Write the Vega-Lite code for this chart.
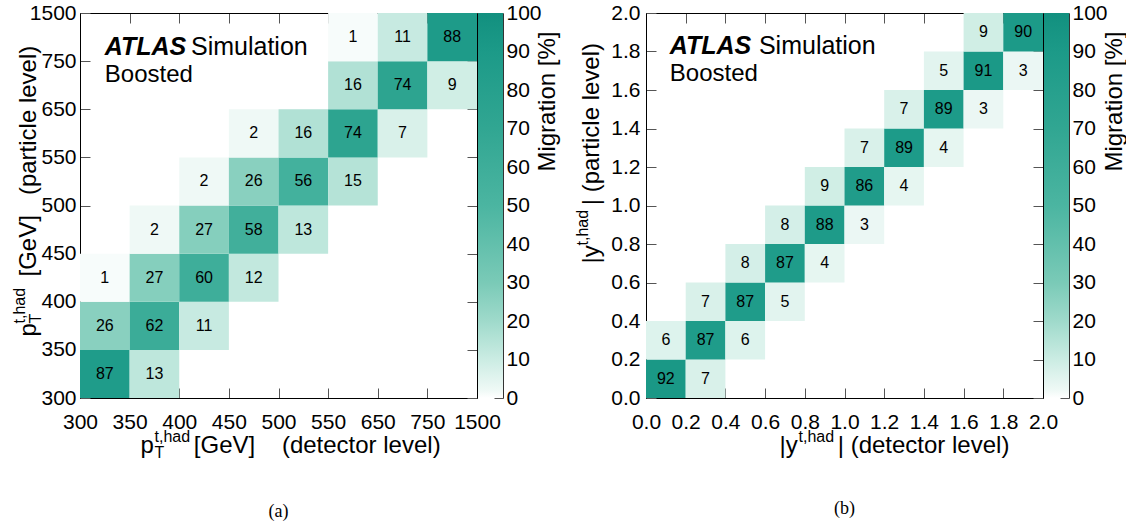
{
  "$schema": "https://vega.github.io/schema/vega-lite/v6.json",
  "background": "white",
  "padding": {"left": 11, "top": 2, "right": 0, "bottom": 0},
  "spacing": 15,
  "config": {
    "font": "Liberation Sans",
    "view": {"stroke": null},
    "axis": {
      "grid": false,
      "domain": true,
      "domainColor": "black",
      "domainWidth": 1,
      "ticks": true,
      "tickColor": "#555555",
      "tickWidth": 1,
      "labelFont": "Liberation Sans",
      "labelFontSize": 21,
      "labelColor": "black",
      "labelFlush": false,
      "labelOverlap": false,
      "labelBound": false,
      "titleFont": "Liberation Sans",
      "titleFontSize": 24,
      "titleFontWeight": "normal",
      "titleColor": "black",
      "titleBaseline": "alphabetic",
      "zindex": 1
    },
    "title": {"font": "Liberation Serif", "fontSize": 18, "fontWeight": "normal", "color": "black"}
  },
  "datasets": {
    "pt": [
      {"det_lo": 300, "det_hi": 350, "det_mid": 325, "part_lo": 300, "part_hi": 350, "part_mid": 325, "pct": 87},
      {"det_lo": 350, "det_hi": 400, "det_mid": 375, "part_lo": 300, "part_hi": 350, "part_mid": 325, "pct": 13},
      {"det_lo": 300, "det_hi": 350, "det_mid": 325, "part_lo": 350, "part_hi": 400, "part_mid": 375, "pct": 26},
      {"det_lo": 350, "det_hi": 400, "det_mid": 375, "part_lo": 350, "part_hi": 400, "part_mid": 375, "pct": 62},
      {"det_lo": 400, "det_hi": 450, "det_mid": 425, "part_lo": 350, "part_hi": 400, "part_mid": 375, "pct": 11},
      {"det_lo": 300, "det_hi": 350, "det_mid": 325, "part_lo": 400, "part_hi": 450, "part_mid": 425, "pct": 1},
      {"det_lo": 350, "det_hi": 400, "det_mid": 375, "part_lo": 400, "part_hi": 450, "part_mid": 425, "pct": 27},
      {"det_lo": 400, "det_hi": 450, "det_mid": 425, "part_lo": 400, "part_hi": 450, "part_mid": 425, "pct": 60},
      {"det_lo": 450, "det_hi": 500, "det_mid": 475, "part_lo": 400, "part_hi": 450, "part_mid": 425, "pct": 12},
      {"det_lo": 350, "det_hi": 400, "det_mid": 375, "part_lo": 450, "part_hi": 500, "part_mid": 475, "pct": 2},
      {"det_lo": 400, "det_hi": 450, "det_mid": 425, "part_lo": 450, "part_hi": 500, "part_mid": 475, "pct": 27},
      {"det_lo": 450, "det_hi": 500, "det_mid": 475, "part_lo": 450, "part_hi": 500, "part_mid": 475, "pct": 58},
      {"det_lo": 500, "det_hi": 550, "det_mid": 525, "part_lo": 450, "part_hi": 500, "part_mid": 475, "pct": 13},
      {"det_lo": 400, "det_hi": 450, "det_mid": 425, "part_lo": 500, "part_hi": 550, "part_mid": 525, "pct": 2},
      {"det_lo": 450, "det_hi": 500, "det_mid": 475, "part_lo": 500, "part_hi": 550, "part_mid": 525, "pct": 26},
      {"det_lo": 500, "det_hi": 550, "det_mid": 525, "part_lo": 500, "part_hi": 550, "part_mid": 525, "pct": 56},
      {"det_lo": 550, "det_hi": 650, "det_mid": 600, "part_lo": 500, "part_hi": 550, "part_mid": 525, "pct": 15},
      {"det_lo": 450, "det_hi": 500, "det_mid": 475, "part_lo": 550, "part_hi": 650, "part_mid": 600, "pct": 2},
      {"det_lo": 500, "det_hi": 550, "det_mid": 525, "part_lo": 550, "part_hi": 650, "part_mid": 600, "pct": 16},
      {"det_lo": 550, "det_hi": 650, "det_mid": 600, "part_lo": 550, "part_hi": 650, "part_mid": 600, "pct": 74},
      {"det_lo": 650, "det_hi": 750, "det_mid": 700, "part_lo": 550, "part_hi": 650, "part_mid": 600, "pct": 7},
      {"det_lo": 550, "det_hi": 650, "det_mid": 600, "part_lo": 650, "part_hi": 750, "part_mid": 700, "pct": 16},
      {"det_lo": 650, "det_hi": 750, "det_mid": 700, "part_lo": 650, "part_hi": 750, "part_mid": 700, "pct": 74},
      {"det_lo": 750, "det_hi": 1500, "det_mid": 1125, "part_lo": 650, "part_hi": 750, "part_mid": 700, "pct": 9},
      {"det_lo": 550, "det_hi": 650, "det_mid": 600, "part_lo": 750, "part_hi": 1500, "part_mid": 1125, "pct": 1},
      {"det_lo": 650, "det_hi": 750, "det_mid": 700, "part_lo": 750, "part_hi": 1500, "part_mid": 1125, "pct": 11},
      {"det_lo": 750, "det_hi": 1500, "det_mid": 1125, "part_lo": 750, "part_hi": 1500, "part_mid": 1125, "pct": 88}
    ],
    "rap": [
      {"det_lo": 0.0, "det_hi": 0.2, "det_mid": 0.1, "part_lo": 0.0, "part_hi": 0.2, "part_mid": 0.1, "pct": 92},
      {"det_lo": 0.2, "det_hi": 0.4, "det_mid": 0.3, "part_lo": 0.0, "part_hi": 0.2, "part_mid": 0.1, "pct": 7},
      {"det_lo": 0.0, "det_hi": 0.2, "det_mid": 0.1, "part_lo": 0.2, "part_hi": 0.4, "part_mid": 0.3, "pct": 6},
      {"det_lo": 0.2, "det_hi": 0.4, "det_mid": 0.3, "part_lo": 0.2, "part_hi": 0.4, "part_mid": 0.3, "pct": 87},
      {"det_lo": 0.4, "det_hi": 0.6, "det_mid": 0.5, "part_lo": 0.2, "part_hi": 0.4, "part_mid": 0.3, "pct": 6},
      {"det_lo": 0.2, "det_hi": 0.4, "det_mid": 0.3, "part_lo": 0.4, "part_hi": 0.6, "part_mid": 0.5, "pct": 7},
      {"det_lo": 0.4, "det_hi": 0.6, "det_mid": 0.5, "part_lo": 0.4, "part_hi": 0.6, "part_mid": 0.5, "pct": 87},
      {"det_lo": 0.6, "det_hi": 0.8, "det_mid": 0.7, "part_lo": 0.4, "part_hi": 0.6, "part_mid": 0.5, "pct": 5},
      {"det_lo": 0.4, "det_hi": 0.6, "det_mid": 0.5, "part_lo": 0.6, "part_hi": 0.8, "part_mid": 0.7, "pct": 8},
      {"det_lo": 0.6, "det_hi": 0.8, "det_mid": 0.7, "part_lo": 0.6, "part_hi": 0.8, "part_mid": 0.7, "pct": 87},
      {"det_lo": 0.8, "det_hi": 1.0, "det_mid": 0.9, "part_lo": 0.6, "part_hi": 0.8, "part_mid": 0.7, "pct": 4},
      {"det_lo": 0.6, "det_hi": 0.8, "det_mid": 0.7, "part_lo": 0.8, "part_hi": 1.0, "part_mid": 0.9, "pct": 8},
      {"det_lo": 0.8, "det_hi": 1.0, "det_mid": 0.9, "part_lo": 0.8, "part_hi": 1.0, "part_mid": 0.9, "pct": 88},
      {"det_lo": 1.0, "det_hi": 1.2, "det_mid": 1.1, "part_lo": 0.8, "part_hi": 1.0, "part_mid": 0.9, "pct": 3},
      {"det_lo": 0.8, "det_hi": 1.0, "det_mid": 0.9, "part_lo": 1.0, "part_hi": 1.2, "part_mid": 1.1, "pct": 9},
      {"det_lo": 1.0, "det_hi": 1.2, "det_mid": 1.1, "part_lo": 1.0, "part_hi": 1.2, "part_mid": 1.1, "pct": 86},
      {"det_lo": 1.2, "det_hi": 1.4, "det_mid": 1.3, "part_lo": 1.0, "part_hi": 1.2, "part_mid": 1.1, "pct": 4},
      {"det_lo": 1.0, "det_hi": 1.2, "det_mid": 1.1, "part_lo": 1.2, "part_hi": 1.4, "part_mid": 1.3, "pct": 7},
      {"det_lo": 1.2, "det_hi": 1.4, "det_mid": 1.3, "part_lo": 1.2, "part_hi": 1.4, "part_mid": 1.3, "pct": 89},
      {"det_lo": 1.4, "det_hi": 1.6, "det_mid": 1.5, "part_lo": 1.2, "part_hi": 1.4, "part_mid": 1.3, "pct": 4},
      {"det_lo": 1.2, "det_hi": 1.4, "det_mid": 1.3, "part_lo": 1.4, "part_hi": 1.6, "part_mid": 1.5, "pct": 7},
      {"det_lo": 1.4, "det_hi": 1.6, "det_mid": 1.5, "part_lo": 1.4, "part_hi": 1.6, "part_mid": 1.5, "pct": 89},
      {"det_lo": 1.6, "det_hi": 1.8, "det_mid": 1.7, "part_lo": 1.4, "part_hi": 1.6, "part_mid": 1.5, "pct": 3},
      {"det_lo": 1.4, "det_hi": 1.6, "det_mid": 1.5, "part_lo": 1.6, "part_hi": 1.8, "part_mid": 1.7, "pct": 5},
      {"det_lo": 1.6, "det_hi": 1.8, "det_mid": 1.7, "part_lo": 1.6, "part_hi": 1.8, "part_mid": 1.7, "pct": 91},
      {"det_lo": 1.8, "det_hi": 2.0, "det_mid": 1.9, "part_lo": 1.6, "part_hi": 1.8, "part_mid": 1.7, "pct": 3},
      {"det_lo": 1.6, "det_hi": 1.8, "det_mid": 1.7, "part_lo": 1.8, "part_hi": 2.0, "part_mid": 1.9, "pct": 9},
      {"det_lo": 1.8, "det_hi": 2.0, "det_mid": 1.9, "part_lo": 1.8, "part_hi": 2.0, "part_mid": 1.9, "pct": 90}
    ],
    "bar": [{"lo": 0, "hi": 100}]
  },
  "hconcat": [
    {
      "spacing": 1,
      "bounds": "flush",
      "hconcat": [
        {
          "width": 397,
          "height": 385,
          "data": {"name": "pt"},
          "title": {"text": "(a)", "orient": "bottom", "anchor": "middle", "frame": "group", "offset": 43},
          "resolve": {"axis": {"x": "independent", "y": "independent"}},
          "layer": [
            {
              "mark": {"type": "rect", "strokeWidth": 0},
              "encoding": {
                "x": {
                  "field": "det_lo", "type": "quantitative",
                  "scale": {"domain": [300, 350, 400, 450, 500, 550, 650, 750, 1500], "range": [0, 49.625, 99.25, 148.875, 198.5, 248.125, 297.75, 347.375, 397], "nice": false, "zero": false},
                  "axis": {"orient": "bottom", "values": [300, 350, 400, 450, 500, 550, 650, 750, 1500], "format": "d", "tickSize": -10, "labelPadding": 23,
                    "title": "p\u00a0\u00a0\u00a0\u00a0\u00a0\u00a0[GeV]\u00a0\u00a0\u00a0\u00a0(detector level)", "titleX": 60, "titleY": 54, "titleAlign": "left", "titleAngle": 0}
                },
                "x2": {"field": "det_hi"},
                "y": {
                  "field": "part_lo", "type": "quantitative",
                  "scale": {"domain": [300, 350, 400, 450, 500, 550, 650, 750, 1500], "range": [385, 336.875, 288.75, 240.625, 192.5, 144.375, 96.25, 48.125, 0], "nice": false, "zero": false},
                  "axis": {"orient": "left", "values": [300, 350, 400, 450, 500, 550, 650, 750, 1500], "format": "d", "tickSize": -10, "labelPadding": 14,
                    "title": "p\u00a0\u00a0\u00a0\u00a0\u00a0\u00a0\u00a0[GeV]\u00a0\u00a0\u00a0(particle level)", "titleX": -45, "titleY": 323, "titleAlign": "left", "titleAngle": 270}
                },
                "y2": {"field": "part_hi"},
                "color": {
                  "field": "pct", "type": "quantitative",
                  "scale": {"domain": [0, 2, 10, 20, 30, 50, 70, 90, 100], "range": ["#ffffff", "#eff9f6", "#cbece3", "#9fdacb", "#7acab7", "#4bb5a1", "#31a692", "#1c9a88", "#12907f"], "interpolate": "rgb"},
                  "legend": null
                }
              }
            },
            {
              "mark": {"type": "text", "fontSize": 16, "color": "black", "align": "center", "baseline": "middle"},
              "encoding": {
                "x": {
                  "field": "det_mid", "type": "quantitative",
                  "axis": {"orient": "top", "values": [300, 350, 400, 450, 500, 550, 650, 750, 1500], "labels": false, "tickSize": -10,
                    "title": ["t,had", "T"], "titleFontSize": 16, "titleLineHeight": 16, "titleX": 74, "titleY": 428, "titleAlign": "left", "titleAngle": 0}
                },
                "y": {
                  "field": "part_mid", "type": "quantitative",
                  "axis": {"orient": "right", "values": [300, 350, 400, 450, 500, 550, 650, 750, 1500], "labels": false, "tickSize": -10,
                    "title": ["t,had", "T"], "titleFontSize": 16, "titleLineHeight": 16, "titleX": -453, "titleY": 310, "titleAlign": "left", "titleAngle": 270}
                },
                "text": {"field": "pct", "type": "quantitative", "format": "d"}
              }
            },
            {
              "data": {"values": [{}]},
              "mark": {"type": "text", "text": "ATLAS", "fontSize": 25, "fontStyle": "italic", "fontWeight": "bold", "align": "left", "baseline": "alphabetic", "color": "black"},
              "encoding": {
                "x": {"datum": 325, "type": "quantitative", "axis": null},
                "y": {"datum": 845, "type": "quantitative", "axis": null}
              }
            },
            {
              "data": {"values": [{}]},
              "mark": {"type": "text", "text": "Simulation", "fontSize": 25, "align": "left", "baseline": "alphabetic", "color": "black"},
              "encoding": {
                "x": {"datum": 411.8, "type": "quantitative", "axis": null},
                "y": {"datum": 845, "type": "quantitative", "axis": null}
              }
            },
            {
              "data": {"values": [{}]},
              "mark": {"type": "text", "text": "Boosted", "fontSize": 24, "align": "left", "baseline": "alphabetic", "color": "black"},
              "encoding": {
                "x": {"datum": 325, "type": "quantitative", "axis": null},
                "y": {"datum": 706.6, "type": "quantitative", "axis": null}
              }
            }
          ]
        },
        {
          "width": 25,
          "height": 385,
          "data": {"name": "bar"},
          "mark": {
            "type": "rect",
            "fill": {"gradient": "linear", "x1": 0, "y1": 1, "x2": 0, "y2": 0,
              "stops": [
                {"offset": 0, "color": "#ffffff"}, {"offset": 0.02, "color": "#eff9f6"}, {"offset": 0.1, "color": "#cbece3"},
                {"offset": 0.2, "color": "#9fdacb"}, {"offset": 0.3, "color": "#7acab7"}, {"offset": 0.5, "color": "#4bb5a1"},
                {"offset": 0.7, "color": "#31a692"}, {"offset": 0.9, "color": "#1c9a88"}, {"offset": 1, "color": "#12907f"}
              ]}
          },
          "encoding": {
            "y": {
              "field": "lo", "type": "quantitative",
              "scale": {"domain": [0, 100], "nice": false, "zero": false},
              "axis": {"orient": "right", "values": [0, 10, 20, 30, 40, 50, 60, 70, 80, 90, 100], "format": "d", "tickSize": -9, "labelPadding": 12, "domainColor": "#333333",
                "title": "Migration [%]", "titleX": 51, "titleY": 18, "titleAlign": "right", "titleAngle": 270}
            },
            "y2": {"field": "hi"}
          }
        }
      ]
    },
    {
      "spacing": 1,
      "bounds": "flush",
      "hconcat": [
        {
          "width": 397,
          "height": 385,
          "data": {"name": "rap"},
          "title": {"text": "(b)", "orient": "bottom", "anchor": "middle", "frame": "group", "offset": 43},
          "resolve": {"axis": {"x": "independent", "y": "independent"}},
          "layer": [
            {
              "mark": {"type": "rect", "strokeWidth": 0},
              "encoding": {
                "x": {
                  "field": "det_lo", "type": "quantitative",
                  "scale": {"domain": [0, 2], "nice": false, "zero": false},
                  "axis": {"orient": "bottom", "values": [0, 0.2, 0.4, 0.6, 0.8, 1, 1.2, 1.4, 1.6, 1.8, 2], "format": ".1f", "tickSize": -10, "labelPadding": 23,
                    "title": "|y\u00a0\u00a0\u00a0\u00a0\u00a0\u00a0|\u00a0(detector level)", "titleX": 133, "titleY": 54, "titleAlign": "left", "titleAngle": 0}
                },
                "x2": {"field": "det_hi"},
                "y": {
                  "field": "part_lo", "type": "quantitative",
                  "scale": {"domain": [0, 2], "nice": false, "zero": false},
                  "axis": {"orient": "left", "values": [0, 0.2, 0.4, 0.6, 0.8, 1, 1.2, 1.4, 1.6, 1.8, 2], "format": ".1f", "tickSize": -10, "labelPadding": 16,
                    "title": "|y\u00a0\u00a0\u00a0\u00a0\u00a0\u00a0|\u00a0(particle level)", "titleX": -48, "titleY": 250, "titleAlign": "left", "titleAngle": 270}
                },
                "y2": {"field": "part_hi"},
                "color": {
                  "field": "pct", "type": "quantitative",
                  "scale": {"domain": [0, 2, 10, 20, 30, 50, 70, 90, 100], "range": ["#ffffff", "#eff9f6", "#cbece3", "#9fdacb", "#7acab7", "#4bb5a1", "#31a692", "#1c9a88", "#12907f"], "interpolate": "rgb"},
                  "legend": null
                }
              }
            },
            {
              "mark": {"type": "text", "fontSize": 16, "color": "black", "align": "center", "baseline": "middle"},
              "encoding": {
                "x": {
                  "field": "det_mid", "type": "quantitative",
                  "axis": {"orient": "top", "values": [0, 0.2, 0.4, 0.6, 0.8, 1, 1.2, 1.4, 1.6, 1.8, 2], "labels": false, "tickSize": -10,
                    "title": "t,had", "titleFontSize": 16, "titleX": 152, "titleY": 428, "titleAlign": "left", "titleAngle": 0}
                },
                "y": {
                  "field": "part_mid", "type": "quantitative",
                  "axis": {"orient": "right", "values": [0, 0.2, 0.4, 0.6, 0.8, 1, 1.2, 1.4, 1.6, 1.8, 2], "labels": false, "tickSize": -10,
                    "title": "t,had", "titleFontSize": 16, "titleX": -456, "titleY": 232, "titleAlign": "left", "titleAngle": 270}
                },
                "text": {"field": "pct", "type": "quantitative", "format": "d"}
              }
            },
            {
              "data": {"values": [{}]},
              "mark": {"type": "text", "text": "ATLAS", "fontSize": 25, "fontStyle": "italic", "fontWeight": "bold", "align": "left", "baseline": "alphabetic", "color": "black"},
              "encoding": {
                "x": {"datum": 0.12, "type": "quantitative", "axis": null},
                "y": {"datum": 1.787, "type": "quantitative", "axis": null}
              }
            },
            {
              "data": {"values": [{}]},
              "mark": {"type": "text", "text": "Simulation", "fontSize": 25, "align": "left", "baseline": "alphabetic", "color": "black"},
              "encoding": {
                "x": {"datum": 0.569, "type": "quantitative", "axis": null},
                "y": {"datum": 1.787, "type": "quantitative", "axis": null}
              }
            },
            {
              "data": {"values": [{}]},
              "mark": {"type": "text", "text": "Boosted", "fontSize": 24, "align": "left", "baseline": "alphabetic", "color": "black"},
              "encoding": {
                "x": {"datum": 0.12, "type": "quantitative", "axis": null},
                "y": {"datum": 1.647, "type": "quantitative", "axis": null}
              }
            }
          ]
        },
        {
          "width": 25,
          "height": 385,
          "data": {"name": "bar"},
          "mark": {
            "type": "rect",
            "fill": {"gradient": "linear", "x1": 0, "y1": 1, "x2": 0, "y2": 0,
              "stops": [
                {"offset": 0, "color": "#ffffff"}, {"offset": 0.02, "color": "#eff9f6"}, {"offset": 0.1, "color": "#cbece3"},
                {"offset": 0.2, "color": "#9fdacb"}, {"offset": 0.3, "color": "#7acab7"}, {"offset": 0.5, "color": "#4bb5a1"},
                {"offset": 0.7, "color": "#31a692"}, {"offset": 0.9, "color": "#1c9a88"}, {"offset": 1, "color": "#12907f"}
              ]}
          },
          "encoding": {
            "y": {
              "field": "lo", "type": "quantitative",
              "scale": {"domain": [0, 100], "nice": false, "zero": false},
              "axis": {"orient": "right", "values": [0, 10, 20, 30, 40, 50, 60, 70, 80, 90, 100], "format": "d", "tickSize": -9, "labelPadding": 12, "domainColor": "#333333",
                "title": "Migration [%]", "titleX": 52, "titleY": 18, "titleAlign": "right", "titleAngle": 270}
            },
            "y2": {"field": "hi"}
          }
        }
      ]
    }
  ]
}
